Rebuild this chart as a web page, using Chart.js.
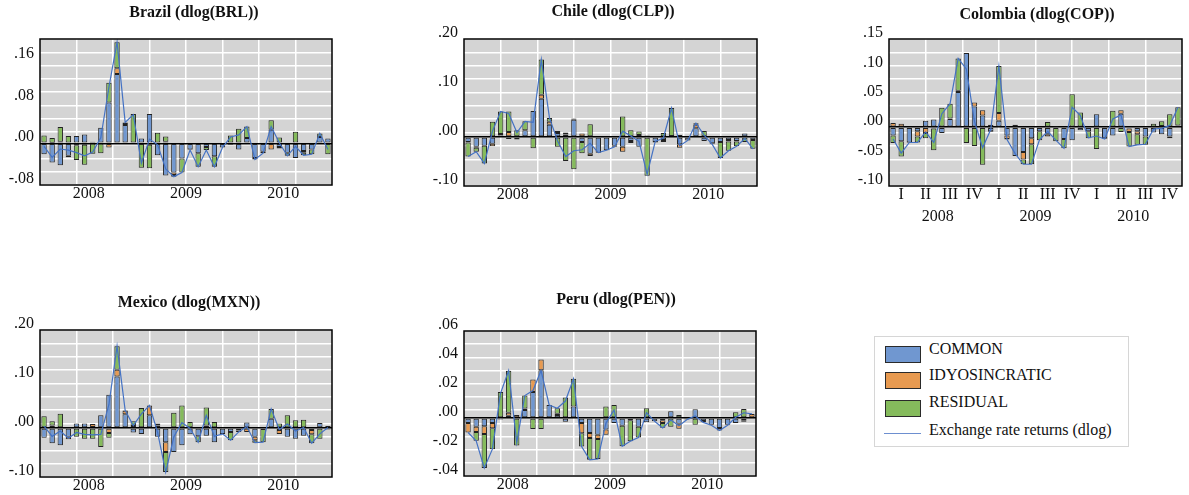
<!DOCTYPE html>
<html>
<head>
<meta charset="utf-8">
<script src="https://cdn.jsdelivr.net/npm/chart.js@4.4.1/dist/chart.umd.min.js"></script>
<style>
  html, body { margin: 0; padding: 0; background: #fff; }
  body { position: relative; width: 1189px; height: 495px; overflow: hidden; font-family: "Liberation Serif", "DejaVu Serif", serif; color: #111; }
  canvas.panel { position: absolute; }
  .legend { position: absolute; left: 874px; top: 336px; width: 255px; height: 111px; border: 1px solid #d6d6d6; box-sizing: border-box; }
  .legend .sw { position: absolute; left: 10px; width: 36px; height: 17px; border: 1px solid #2a2a2a; box-sizing: border-box; }
  .legend .ln { position: absolute; left: 9px; width: 37px; height: 0; border-top: 1.5px solid #6d8fd0; }
  .legend .tx { position: absolute; left: 54px; font-size: 16px; line-height: 18px; white-space: nowrap; }
</style>
</head>
<body>
<div class="legend">
  <div class="sw" style="top:9px;background:#7097d0"></div><div class="tx" style="top:3px">COMMON</div>
  <div class="sw" style="top:35px;background:#e89a50"></div><div class="tx" style="top:29px">IDYOSINCRATIC</div>
  <div class="sw" style="top:63px;background:#85bb5c"></div><div class="tx" style="top:56px">RESIDUAL</div>
  <div class="ln" style="top:96px"></div><div class="tx" style="top:84px">Exchange rate returns (dlog)</div>
</div>
<script>
// ---- categories ----
const months = [
  '2008M01','2008M02','2008M03','2008M04','2008M05','2008M06','2008M07','2008M08','2008M09','2008M10','2008M11','2008M12',
  '2009M01','2009M02','2009M03','2009M04','2009M05','2009M06','2009M07','2009M08','2009M09','2009M10','2009M11','2009M12',
  '2010M01','2010M02','2010M03','2010M04','2010M05','2010M06','2010M07','2010M08','2010M09','2010M10','2010M11','2010M12'
];
const yearLabels = ['2008', '2009', '2010'];
const quarterLabels = ['I', 'II', 'III', 'IV', 'I', 'II', 'III', 'IV', 'I', 'II', 'III', 'IV'];

// ---- Brazil ----
const brlCommon = [-0.021,-0.037,-0.042,-0.024,0.014,0.017,0.003,0.030,0.078,0.133,0.035,-0.001,0.009,0.056,-0.023,-0.062,-0.056,-0.029,-0.012,-0.019,-0.007,-0.025,-0.008,-0.003,-0.012,0.010,-0.028,-0.016,0.026,-0.007,-0.018,-0.028,-0.015,-0.012,0.012,0.009];
const brlIdio   = [0.000,0.001,0.003,-0.003,-0.004,-0.003,-0.001,-0.001,-0.008,0.011,0.004,0.000,0.000,-0.003,0.000,0.003,-0.005,0.000,-0.001,0.000,0.000,0.000,0.000,0.000,0.000,0.000,0.000,0.000,-0.012,-0.003,0.000,0.000,-0.003,0.000,0.000,0.000];
const brlResid  = [0.015,0.009,0.028,0.014,-0.028,-0.038,-0.019,-0.018,0.038,0.050,0.001,0.056,-0.047,-0.045,0.020,0.010,-0.003,-0.027,0.000,-0.026,-0.006,-0.020,0.000,0.015,0.028,0.022,-0.003,-0.003,0.018,0.011,-0.006,0.022,-0.005,-0.009,0.007,-0.021];
const brlReturns = [-0.006,-0.027,-0.011,-0.013,-0.018,-0.024,-0.017,0.011,0.108,0.194,0.040,0.055,-0.038,0.008,-0.003,-0.049,-0.064,-0.056,-0.013,-0.045,-0.013,-0.045,-0.008,0.012,0.016,0.032,-0.031,-0.019,0.032,0.001,-0.024,-0.006,-0.023,-0.021,0.019,-0.012];
const brlTicks = [-0.08, 0, 0.08, 0.16];

// ---- Chile ----
const clpCommon = [-0.010,-0.020,-0.018,-0.014,0.003,-0.004,-0.005,0.014,0.053,0.078,0.025,0.008,0.005,0.035,-0.010,-0.034,-0.032,-0.027,-0.018,-0.020,-0.008,-0.020,0.003,-0.010,-0.006,0.002,-0.015,-0.007,0.018,-0.008,-0.013,-0.010,-0.006,-0.008,0.007,-0.006];
const clpIdio   = [-0.001,-0.002,0.000,-0.005,0.003,0.010,0.000,0.000,0.000,0.008,0.006,0.004,0.004,0.003,0.007,-0.005,0.000,0.000,-0.002,-0.010,-0.004,0.004,0.000,-0.001,-0.004,0.000,-0.007,0.000,0.007,0.000,0.000,0.000,-0.003,-0.001,0.000,0.000];
const clpResid  = [-0.029,-0.008,-0.036,0.031,0.046,0.042,0.014,0.018,-0.023,0.072,0.008,-0.020,-0.049,-0.066,-0.023,0.026,0.000,0.000,0.000,0.042,0.014,0.007,-0.079,0.002,0.008,0.057,0.004,0.000,0.003,0.012,-0.002,-0.033,-0.019,-0.010,-0.010,-0.018];
const clpReturns = [-0.040,-0.030,-0.054,0.012,0.052,0.048,0.009,0.032,0.030,0.158,0.039,-0.008,-0.040,-0.028,-0.026,-0.013,-0.032,-0.027,-0.020,0.012,0.002,-0.009,-0.076,-0.009,-0.002,0.059,-0.018,-0.007,0.028,0.004,-0.015,-0.043,-0.028,-0.019,-0.003,-0.024];
const clpTicks = [-0.10, 0, 0.10, 0.20];

// ---- Colombia ----
const copCommon = [-0.014,-0.024,-0.026,-0.007,0.011,0.013,-0.010,0.014,0.060,0.126,0.035,0.020,-0.007,0.011,-0.014,-0.049,-0.042,-0.019,-0.007,-0.012,0.002,-0.020,-0.022,-0.005,-0.007,0.022,-0.019,-0.014,0.023,-0.002,-0.007,-0.016,-0.009,-0.012,-0.016,0.003];
const copIdio   = [0.007,0.006,0.001,-0.009,-0.010,-0.002,0.001,0.001,0.002,0.000,0.007,0.009,0.004,0.013,-0.006,0.001,-0.013,-0.010,0.001,-0.004,0.000,0.000,0.000,0.000,0.001,0.000,0.000,0.000,0.006,-0.006,-0.005,0.001,0.001,0.002,-0.003,0.000];
const copResid  = [-0.013,-0.026,-0.001,-0.010,-0.009,-0.037,0.032,0.025,0.055,-0.027,-0.032,-0.064,-0.001,0.080,-0.001,0.003,-0.008,-0.034,-0.015,0.009,-0.024,-0.016,0.056,0.025,-0.012,-0.037,-0.001,0.028,-0.008,-0.025,-0.018,-0.014,0.005,0.008,0.022,0.031];
const copReturns = [-0.020,-0.044,-0.026,-0.026,-0.008,-0.026,0.023,0.040,0.117,0.099,0.010,-0.035,-0.004,0.104,-0.021,-0.045,-0.063,-0.063,-0.021,-0.007,-0.022,-0.036,0.034,0.020,-0.018,-0.015,-0.020,0.014,0.021,-0.033,-0.030,-0.029,-0.003,-0.002,0.003,0.034];
const copTicks = [-0.10, -0.05, 0, 0.05, 0.10, 0.15];

// ---- Mexico ----
const mxnCommon = [-0.020,-0.031,-0.035,-0.018,0.009,0.009,0.002,0.026,0.068,0.105,0.028,-0.009,-0.012,0.026,-0.018,-0.029,-0.049,-0.035,-0.013,-0.017,-0.016,-0.029,-0.012,-0.008,-0.005,0.011,-0.018,-0.002,0.019,-0.004,-0.018,-0.022,-0.016,-0.004,0.010,-0.003];
const mxnIdio   = [0.000,0.005,0.000,-0.005,0.000,0.000,0.006,0.000,-0.010,0.014,0.007,0.004,0.000,0.020,0.005,-0.020,0.000,0.000,0.000,0.000,0.005,0.000,0.000,0.000,0.000,-0.008,-0.007,0.000,0.000,-0.008,0.000,0.000,0.000,-0.009,0.000,0.000];
const mxnResid  = [0.024,0.009,0.029,0.002,-0.018,-0.022,-0.022,-0.039,-0.010,0.048,0.001,0.010,0.041,0.000,0.004,-0.041,0.031,0.046,0.012,-0.012,0.037,0.012,0.000,-0.017,-0.003,0.000,-0.005,-0.027,0.020,0.009,0.026,0.016,0.017,-0.018,-0.022,0.004];
const mxnReturns = [0.004,-0.017,-0.006,-0.021,-0.009,-0.013,-0.014,-0.013,0.048,0.167,0.036,0.005,0.029,0.046,-0.009,-0.090,-0.018,0.011,-0.001,-0.029,0.026,-0.017,-0.012,-0.025,-0.008,0.003,-0.030,-0.029,0.039,-0.003,0.008,-0.006,0.001,-0.031,-0.012,0.001];
const mxnTicks = [-0.10, 0, 0.10, 0.20];

// ---- Peru ----
const penCommon = [-0.0035,-0.0060,-0.0057,-0.0035,-0.0010,0.0016,0.0000,0.0055,0.0180,0.0330,0.0090,0.0020,-0.0025,0.0080,-0.0035,-0.0103,-0.0115,-0.0080,-0.0035,-0.0053,-0.0005,-0.0060,-0.0030,-0.0023,-0.0016,0.0046,-0.0040,-0.0010,0.0060,-0.0020,-0.0046,-0.0069,-0.0046,-0.0035,-0.0016,0.0000];
const penIdio   = [-0.0065,-0.0037,-0.0053,-0.0035,0.0000,0.0020,0.0020,0.0010,0.0085,0.0073,0.0000,0.0010,0.0000,0.0000,-0.0070,-0.0035,-0.0030,-0.0035,0.0000,0.0000,-0.0010,0.0000,0.0000,0.0000,-0.0018,0.0000,-0.0034,0.0000,0.0000,0.0000,0.0000,-0.0018,0.0000,0.0000,-0.0010,0.0028];
const penResid  = [0.0000,-0.0060,-0.0234,-0.0145,0.0180,0.0290,-0.0190,0.0090,-0.0076,-0.0076,0.0000,0.0037,0.0142,0.0190,-0.0092,-0.0150,-0.0138,0.0080,0.0090,-0.0142,-0.0145,-0.0075,0.0067,0.0000,-0.0034,-0.0060,0.0020,0.0000,-0.0046,-0.0010,-0.0004,0.0000,-0.0004,0.0040,0.0062,0.0000];
const penReturns = [-0.0100,-0.0157,-0.0344,-0.0215,0.0170,0.0326,-0.0170,0.0155,0.0189,0.0327,0.0090,0.0067,0.0117,0.0270,-0.0197,-0.0288,-0.0283,-0.0035,0.0055,-0.0195,-0.0160,-0.0135,0.0037,-0.0023,-0.0068,-0.0014,-0.0054,-0.0010,0.0014,-0.0030,-0.0050,-0.0087,-0.0050,0.0005,0.0036,0.0028];
const penTicks = [-0.04, -0.02, 0, 0.02, 0.04, 0.06];

// ---- look ----
const SERIF = '"Liberation Serif", "DejaVu Serif", serif';
const COL_COMMON = '#7097d0';
const COL_IDIO = '#e89a50';
const COL_RESID = '#85bb5c';
const COL_LINE = '#4472c4';
const BAR_EDGE = '#222222';
const PLOT_BG = '#d4d4d4';

Chart.defaults.font.family = SERIF;
Chart.defaults.color = '#111';

// gray plot background and black frame around each panel
const plotFrame = {
  id: 'plotFrame',
  beforeDraw(chart) {
    const a = chart.chartArea, ctx = chart.ctx;
    ctx.save();
    ctx.fillStyle = PLOT_BG;
    ctx.fillRect(a.left, a.top, a.right - a.left, a.bottom - a.top);
    ctx.restore();
  },
  afterDatasetsDraw(chart) {
    const a = chart.chartArea, ctx = chart.ctx;
    ctx.save();
    ctx.strokeStyle = '#000';
    ctx.lineWidth = 1.5;
    ctx.strokeRect(a.left, a.top, a.right - a.left, a.bottom - a.top);
    ctx.restore();
  }
};

function fmtTick(v) {
  const s = Math.abs(v).toFixed(2).replace(/^0/, '');
  return (v < -1e-9 ? '-' : '') + s;
}

const panels = [
  { title: 'Brazil (dlog(BRL))', c: brlCommon, o: brlIdio, r: brlResid, ret: brlReturns, ticks: brlTicks, min: -0.08, max: 0.20,
    left: 0, titleX: 194, titleY: 13, pl: 40, pr: 332, pt: 39, pb: 185, bottom: 24, quarters: false },
  { title: 'Chile (dlog(CLP))', c: clpCommon, o: clpIdio, r: clpResid, ret: clpReturns, ticks: clpTicks, min: -0.10, max: 0.20,
    left: 420, titleX: 613, titleY: 12, pl: 464, pr: 757, pt: 39, pb: 186, bottom: 24, quarters: false },
  { title: 'Colombia (dlog(COP))', c: copCommon, o: copIdio, r: copResid, ret: copReturns, ticks: copTicks, min: -0.10, max: 0.15,
    left: 845, titleX: 1037, titleY: 15, pl: 889, pr: 1182, pt: 39, pb: 186, bottom: 42, quarters: true },
  { title: 'Mexico (dlog(MXN))', c: mxnCommon, o: mxnIdio, r: mxnResid, ret: mxnReturns, ticks: mxnTicks, min: -0.10, max: 0.20,
    left: 0, titleX: 189, titleY: 303, pl: 40, pr: 332, pt: 330, pb: 477, bottom: 18, quarters: false },
  { title: 'Peru (dlog(PEN))', c: penCommon, o: penIdio, r: penResid, ret: penReturns, ticks: penTicks, min: -0.04, max: 0.06,
    left: 420, titleX: 616, titleY: 300, pl: 464, pr: 756, pt: 331, pb: 476, bottom: 19, quarters: false }
];

const n = months.length;
const yearCenters = yearLabels.map((_, k) => k * 12 + 5.5);
const quarterCenters = quarterLabels.map((_, k) => k * 3 + 1);
const gridCols = [1, 2, 3, 4, 5, 6, 7].map(k => -0.5 + k * 4.5);
const TITLE_LH = 16 * 1.2;

function zeroPad(s) { s.paddingLeft = 0; s.paddingRight = 0; s.paddingTop = 0; s.paddingBottom = 0; }
function tickFont() { return { family: SERIF, size: 16, lineHeight: 1 }; }

// linear helper axis spanning the same month range as the bars
function monthAxis(position, extra) {
  return Object.assign({
    type: 'linear', position, min: -0.5, max: n - 0.5, offset: false,
    grid: { display: false, drawTicks: false, offset: false },
    border: { display: false }
  }, extra);
}

panels.forEach((p) => {
  const W = Math.round(2 * (p.titleX - p.left));
  const top = Math.round(p.titleY - 2 - TITLE_LH / 2);
  const H = p.pb + p.bottom - top;
  const titleBottomPad = p.pt - top - 2 - TITLE_LH;

  const cv = document.createElement('canvas');
  cv.className = 'panel';
  cv.width = W; cv.height = H;
  cv.style.left = p.left + 'px'; cv.style.top = top + 'px';
  cv.style.width = W + 'px'; cv.style.height = H + 'px';
  document.body.appendChild(cv);

  const barStyle = { stack: 'parts', borderColor: BAR_EDGE, borderWidth: 1, borderSkipped: false,
                     barPercentage: 0.66, categoryPercentage: 1, xAxisID: 'x', yAxisID: 'y' };

  const scales = {
    x: { type: 'category', stacked: true, display: false, offset: true },
    y: {
      type: 'linear', position: 'left', stacked: true, min: p.min, max: p.max,
      afterBuildTicks: s => { s.ticks = p.ticks.map(v => ({ value: v })); },
      afterFit: s => { s.width = p.pl - p.left; zeroPad(s); },
      ticks: { callback: v => fmtTick(v), font: tickFont(), color: '#111', padding: 6, labelOffset: -6, autoSkip: false },
      grid: { color: c => (c.tick && Math.abs(c.tick.value) < 1e-9) ? '#000' : 'rgba(0,0,0,0)', lineWidth: 1.5, drawTicks: false, z: -1 },
      border: { display: false }
    },
    yg: {
      type: 'linear', position: 'right', min: 0, max: 11,
      ticks: { display: false, stepSize: 1 },
      grid: { color: '#ffffff', lineWidth: 1.5, drawTicks: false, z: -2 },
      border: { display: false },
      afterFit: s => { s.width = p.left + W - p.pr; zeroPad(s); }
    },
    xg: monthAxis('top', {
      afterBuildTicks: s => { s.ticks = gridCols.map(v => ({ value: v })); },
      ticks: { display: false },
      grid: { display: true, color: '#ffffff', lineWidth: 1.5, drawTicks: false, offset: false, z: -2 },
      afterFit: s => { s.height = 0; zeroPad(s); }
    })
  };

  if (p.quarters) {
    scales.xq = monthAxis('bottom', {
      weight: 1,
      afterBuildTicks: s => { s.ticks = quarterCenters.map(v => ({ value: v })); },
      ticks: { callback: (v, i) => quarterLabels[i], font: tickFont(), color: '#111', padding: 1, autoSkip: false, maxRotation: 0 },
      afterFit: s => { s.height = 20; zeroPad(s); }
    });
    scales.xy = monthAxis('bottom', {
      weight: 2,
      afterBuildTicks: s => { s.ticks = yearCenters.map(v => ({ value: v })); },
      ticks: { callback: (v, i) => yearLabels[i], font: tickFont(), color: '#111', padding: 3, autoSkip: false, maxRotation: 0 },
      afterFit: s => { s.height = p.bottom - 20; zeroPad(s); }
    });
  } else {
    scales.xl = monthAxis('bottom', {
      afterBuildTicks: s => { s.ticks = yearCenters.map(v => ({ value: v })); },
      ticks: { callback: (v, i) => yearLabels[i], font: tickFont(), color: '#111', padding: 1, autoSkip: false, maxRotation: 0 },
      afterFit: s => { s.height = p.bottom; zeroPad(s); }
    });
  }

  new Chart(cv, {
    type: 'bar',
    data: {
      labels: months,
      datasets: [
        { type: 'line', label: 'Exchange rate returns (dlog)', data: p.ret, stack: 'returns', order: 0,
          borderColor: COL_LINE, borderWidth: 1.2, pointRadius: 0, tension: 0, fill: false, xAxisID: 'x', yAxisID: 'y' },
        Object.assign({ label: 'COMMON', data: p.c, backgroundColor: COL_COMMON, order: 1 }, barStyle),
        Object.assign({ label: 'IDYOSINCRATIC', data: p.o, backgroundColor: COL_IDIO, order: 2 }, barStyle),
        Object.assign({ label: 'RESIDUAL', data: p.r, backgroundColor: COL_RESID, order: 3 }, barStyle)
      ]
    },
    options: {
      responsive: false,
      animation: false,
      events: [],
      layout: { padding: 0 },
      plugins: {
        legend: { display: false },
        tooltip: { enabled: false },
        title: {
          display: true, text: p.title, color: '#111',
          font: { family: SERIF, size: 16, weight: 'bold', lineHeight: 1.2 },
          padding: { top: 2, bottom: titleBottomPad }
        }
      },
      scales
    },
    plugins: [plotFrame]
  });
});
</script>
</body>
</html>
